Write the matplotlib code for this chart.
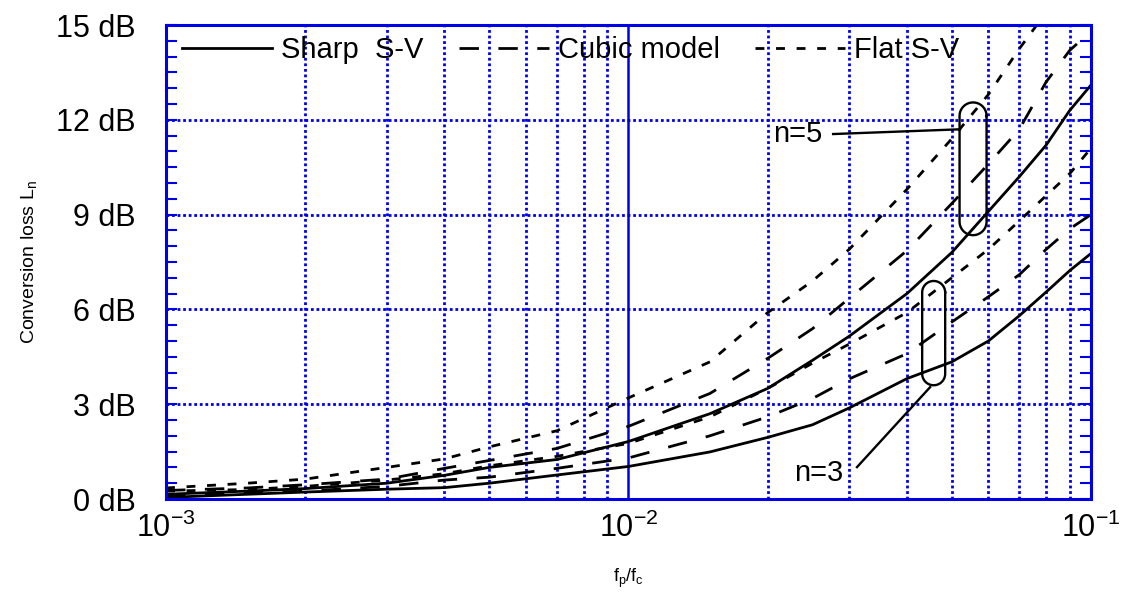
import numpy as np
import matplotlib
matplotlib.use("Agg")
import matplotlib.pyplot as plt
from matplotlib.ticker import MultipleLocator, LogLocator, NullFormatter

plt.rcParams["font.family"] = ["Liberation Sans", "DejaVu Sans"]
plt.rcParams["mathtext.default"] = "regular"

# f_p / f_c sample points
freq = [1e-3, 1.5e-3, 2e-3, 3e-3, 4e-3, 5e-3, 7e-3, 1e-2, 1.5e-2, 2e-2,
        2.5e-2, 3e-2, 4e-2, 5e-2, 6e-2, 7e-2, 8e-2, 9e-2, 1e-1]

# conversion loss in dB
sharp_n3 = [0.05, 0.15, 0.22, 0.31, 0.36, 0.5, 0.76, 1.03, 1.49, 1.95,
            2.35, 2.88, 3.81, 4.34, 5.0, 5.8, 6.55, 7.23, 7.77]
sharp_n5 = [0.15, 0.25, 0.33, 0.5, 0.75, 1.0, 1.25, 1.82, 2.7, 3.5,
            4.39, 5.15, 6.5, 7.8, 9.1, 10.2, 11.2, 12.3, 13.1]
cubic_n3 = [0.12, 0.2, 0.25, 0.4, 0.6, 0.69, 0.97, 1.3, 2.0, 2.6,
            3.18, 3.8, 4.6, 5.6, 6.4, 7.1, 7.9, 8.55, 9.0]
cubic_n5 = [0.27, 0.35, 0.45, 0.63, 0.97, 1.22, 1.6, 2.3, 3.34, 4.45,
            5.39, 6.35, 7.86, 9.35, 10.6, 11.7, 13.2, 14.2, 14.8]
flat_n3 = [0.25, 0.3, 0.4, 0.6, 0.8, 1.05, 1.35, 1.76, 2.6, 3.5,
           4.3, 4.9, 5.9, 7.0, 7.9, 8.8, 9.6, 10.3, 11.1]
flat_n5 = [0.35, 0.5, 0.63, 1.0, 1.27, 1.65, 2.16, 3.2, 4.34, 5.9,
           6.9, 7.9, 9.8, 11.4, 12.8, 14.25, 15.4]

y_ticks = [0, 3, 6, 9, 12, 15]
y_labels = [f"{v} dB" for v in y_ticks]
x_ticks = [1e-3, 1e-2, 1e-1]
x_labels = ["10$^{-3}$", "10$^{-2}$", "10$^{-1}$"]

BLUE = "#0000e6"


def stadium(ax, fc, y0, y1, half_px):
    """Rounded oval drawn in log-x space."""
    px_dec, px_db = 462.5, 31.6
    w = half_px / px_dec
    r = half_px / px_db
    c = np.log10(fc)
    t1 = np.linspace(0, np.pi, 40)
    t2 = np.linspace(np.pi, 2 * np.pi, 40)
    xs = np.concatenate([c + w * np.cos(t1), c + w * np.cos(t2), [c + w]])
    ys = np.concatenate([y1 - r + r * np.sin(t1), y0 + r + r * np.sin(t2), [y1 - r]])
    ax.plot(10 ** xs, ys, color="black", lw=1.7)


fig = plt.figure(figsize=(11.24, 5.93), dpi=100)
ax = fig.add_axes([0.1477, 0.1585, 0.9706 - 0.1477, 0.9578 - 0.1585])

ax.plot(freq, sharp_n3, color="black", lw=2, label="Sharp  S-V")
ax.plot(freq, sharp_n5, color="black", lw=2)
ax.plot(freq, cubic_n3, color="black", lw=2, ls=(0, (7, 7)), label="Cubic model")
ax.plot(freq, cubic_n5, color="black", lw=2, ls=(0, (7, 7)))
ax.plot(freq, flat_n3, color="black", lw=2, ls=(0, (3.2, 4.2)), label="Flat S-V")
ax.plot(freq[:len(flat_n5)], flat_n5, color="black", lw=2, ls=(0, (3.2, 4.2)))

# n=5 / n=3 ovals and leader lines
stadium(ax, 0.0556, 8.35, 12.55, 13.5)
stadium(ax, 0.0457, 3.6, 6.9, 11.5)
ax.plot([0.0277, 0.0521], [11.55, 11.7], color="black", lw=1.7)
ax.plot([0.0312, 0.0449], [1.01, 3.54], color="black", lw=1.7)
ax.text(0.0263, 11.55, "n=5", ha="right", va="center", fontsize=21)
ax.text(0.0291, 0.82, "n=3", ha="right", va="center", fontsize=21)

ax.set_xscale("log")
ax.set_xlim(1e-3, 1e-1)
ax.set_ylim(0, 15)

ax.set_xticks(x_ticks)
ax.set_xticklabels(x_labels)
ax.set_yticks(y_ticks)
ax.set_yticklabels(y_labels)
ax.yaxis.set_minor_locator(MultipleLocator(0.5))
ax.xaxis.set_minor_locator(LogLocator(base=10, subs=range(2, 10)))
ax.xaxis.set_minor_formatter(NullFormatter())

ax.grid(which="major", axis="x", color=BLUE, ls="-", lw=1.8)
ax.grid(which="minor", axis="x", color=BLUE, ls=(0, (1, 1)), lw=2)
ax.grid(which="major", axis="y", color=BLUE, ls=(0, (1, 1)), lw=2)

ax.tick_params(axis="y", which="both", direction="in", left=True, right=True,
               color=BLUE, width=1.5, length=8, pad=22, labelsize=22)
ax.tick_params(axis="x", which="both", direction="in", length=0, pad=10,
               labelsize=22)

for sp in ax.spines.values():
    sp.set_color(BLUE)
    sp.set_linewidth(2.2)

ax.set_ylabel("Conversion loss L$_{n}$", fontsize=14)
ax.yaxis.set_label_coords(-0.137, 0.5)
ax.set_xlabel("f$_{p}$/f$_{c}$", fontsize=13)
ax.xaxis.set_label_coords(0.5, -0.142)

ax.legend(loc="center left", bbox_to_anchor=(0.0173, 0.947), ncol=3,
          frameon=False, fontsize=21, handlelength=3.1, handletextpad=0.3,
          columnspacing=1.2, borderpad=0, borderaxespad=0)

fig.savefig("out.png", dpi=100)
